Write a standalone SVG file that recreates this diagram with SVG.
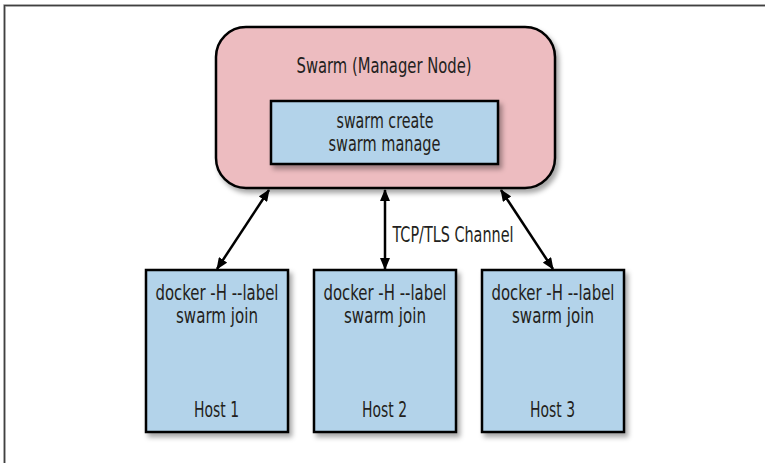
<svg xmlns="http://www.w3.org/2000/svg" width="765" height="463" viewBox="0 0 765 463">
<defs>
  <filter id="sh" x="-10%" y="-10%" width="130%" height="130%">
    <feDropShadow dx="3" dy="4" stdDeviation="2.5" flood-color="#000" flood-opacity="0.35"/>
  </filter>
  <marker id="ah" viewBox="0 0 12 10" refX="11" refY="5" markerWidth="12" markerHeight="10" markerUnits="userSpaceOnUse" orient="auto-start-reverse">
    <path d="M0,0 L12,5 L0,10 Z" fill="#000"/>
  </marker>
  <style>
    text { font-family: "DejaVu Sans Condensed", "Liberation Sans Narrow", "Liberation Sans", sans-serif; font-size: 20.5px; fill: #231f20; text-anchor: middle; }
    .mgr { fill: #edbcc0; stroke: #000; stroke-width: 2.5; }
    .box { fill: #b3d3ea; stroke: #000; stroke-width: 2.5; }
    .conn { stroke: #000; stroke-width: 2.5; fill: none; marker-start: url(#ah); marker-end: url(#ah); }
  </style>
</defs>
<rect width="765" height="463" fill="#fff"/>
<path d="M4.5,463 V5.5 H765" fill="none" stroke="#d0d0d0" stroke-width="3"/>
<path d="M4.5,463 V5.5 H765" fill="none" stroke="#404040" stroke-width="1.5"/>

<g id="manager">
  <rect class="mgr" x="216" y="27" width="339" height="161" rx="30" ry="30" filter="url(#sh)"/>
  <text x="384" y="73" textLength="175" lengthAdjust="spacingAndGlyphs">Swarm (Manager Node)</text>
</g>
<g id="manager-cmds">
  <rect class="box" x="271" y="101" width="227" height="63" filter="url(#sh)"/>
  <text x="385" y="128" textLength="97" lengthAdjust="spacingAndGlyphs">swarm create</text>
  <text x="384.5" y="150.5" textLength="112" lengthAdjust="spacingAndGlyphs">swarm manage</text>
</g>
<g id="host1">
  <rect class="box" x="146" y="270" width="142" height="162" filter="url(#sh)"/>
  <text x="217" y="300" textLength="123" lengthAdjust="spacingAndGlyphs">docker -H --label</text>
  <text x="217" y="323" textLength="82" lengthAdjust="spacingAndGlyphs">swarm join</text>
  <text x="216.5" y="417" textLength="45" lengthAdjust="spacingAndGlyphs">Host 1</text>
</g>
<g id="host2">
  <rect class="box" x="314" y="270" width="142" height="162" filter="url(#sh)"/>
  <text x="385" y="300" textLength="123" lengthAdjust="spacingAndGlyphs">docker -H --label</text>
  <text x="385" y="323" textLength="82" lengthAdjust="spacingAndGlyphs">swarm join</text>
  <text x="384.5" y="417" textLength="45" lengthAdjust="spacingAndGlyphs">Host 2</text>
</g>
<g id="host3">
  <rect class="box" x="482" y="270" width="142" height="162" filter="url(#sh)"/>
  <text x="553" y="300" textLength="123" lengthAdjust="spacingAndGlyphs">docker -H --label</text>
  <text x="553" y="323" textLength="82" lengthAdjust="spacingAndGlyphs">swarm join</text>
  <text x="552.5" y="417" textLength="45" lengthAdjust="spacingAndGlyphs">Host 3</text>
</g>
<g id="connectors">
  <line class="conn" x1="269" y1="190" x2="217" y2="269"/>
  <line class="conn" x1="385" y1="190" x2="385" y2="269"/>
  <line class="conn" x1="501" y1="190" x2="553" y2="269"/>
  <text x="453" y="242" textLength="121" lengthAdjust="spacingAndGlyphs">TCP/TLS Channel</text>
</g>
</svg>
